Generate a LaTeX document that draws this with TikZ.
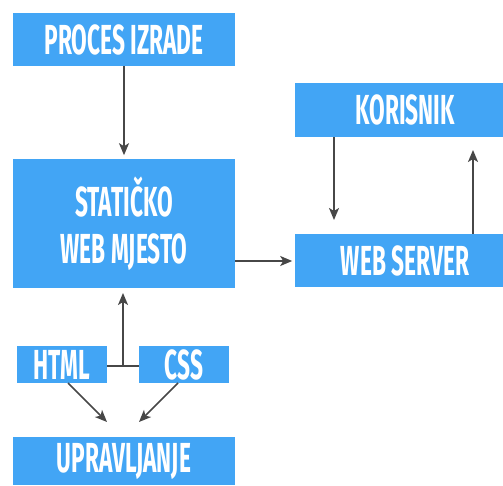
\documentclass[tikz,border=0pt]{standalone}
\usepackage{fontspec}
\setmainfont[FakeStretch=0.54]{Fira Sans}
\usetikzlibrary{arrows.meta}
\definecolor{boxblue}{HTML}{42A5F5}
\definecolor{linegray}{HTML}{474747}
\tikzset{
  block/.style={fill=boxblue, draw=none, inner sep=0pt, text=white,
    font=\fontsize{42}{47}\selectfont\bfseries, align=center},
  flow/.style={draw=linegray, line width=1.6pt,
    -{Stealth[length=12pt,width=10pt,inset=3pt]}},
  joint/.style={draw=linegray, line width=1.6pt}
}
\begin{document}
\begin{tikzpicture}[x=1pt,y=-1pt]
\useasboundingbox (0,0) rectangle (503,486);
\fill[white] (0,0) rectangle (503,486);

\node[block, minimum width=222pt, minimum height=53pt] (proc) at (124,39.5) {PROCES IZRADE};
\node[block, minimum width=222pt, minimum height=129pt] (stat) at (124,223.5) {STATIČKO\\WEB MJESTO};
\node[block, minimum width=222pt, minimum height=48pt] (upr) at (124,461) {UPRAVLJANJE};
\node[block, minimum width=90pt, minimum height=37pt] (html) at (62,364.5) {HTML};
\node[block, minimum width=90pt, minimum height=37pt] (css) at (184,364.5) {CSS};
\node[block, minimum width=220pt, minimum height=54pt] (kor) at (405,110) {KORISNIK};
\node[block, minimum width=220pt, minimum height=53pt] (srv) at (405,260.5) {WEB SERVER};

\coordinate (mid) at (123,366);

\draw[flow] (proc.south) -- ++(0,89);
\draw[flow] (stat.east |- 0,261) -- ++(57,0);
\draw[flow] (kor.south -| 334,0) -- (334,220);
\draw[flow] (srv.north -| 473,0) -- (473,150);
\draw[joint] (html.east |- mid) -- (css.west |- mid);
\draw[flow] (mid) -- (123,293);
\draw[flow] (68,383) -- (107,422);
\draw[flow] (178,383) -- (139,422);
\end{tikzpicture}
\end{document}
